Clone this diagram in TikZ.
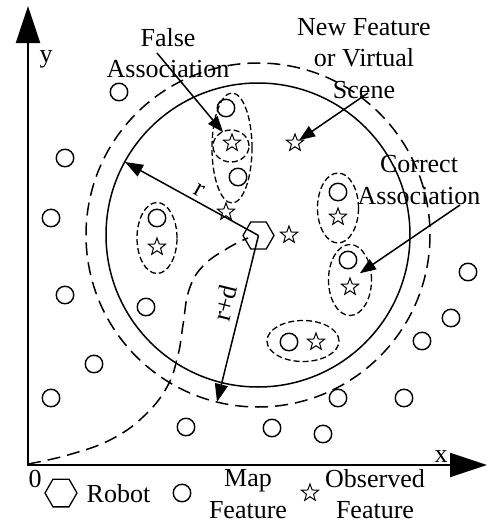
\documentclass[tikz,border=0pt]{standalone}
\usepackage{fontspec}
\setmainfont{Liberation Serif}
\usetikzlibrary{shapes.geometric,arrows.meta}
\begin{document}
\begin{tikzpicture}[x=1pt,y=-1pt,
  every node/.style={font=\fontsize{26}{31.5}\selectfont, inner sep=0pt, outer sep=0pt},
  mapf/.style={circle, draw, line width=1.4pt, minimum size=17.5pt},
  obsf/.style={star, star points=5, star point ratio=2.4, draw, line width=1pt, minimum size=18pt},
  grp/.style={ellipse, draw, line width=1.3pt, dash pattern=on 6pt off 3pt},
  bigdash/.style={line width=1.5pt, dash pattern=on 13pt off 7pt},
  axis/.style={line width=2pt, {Triangle[length=37pt,width=24pt]}-{Triangle[length=37pt,width=24pt]}},
  callout/.style={line width=1.5pt, -{Triangle[length=16pt,width=12pt]}},
  radius arrow/.style={line width=1.5pt, -{Triangle[length=18pt,width=13pt]}},
  robotshape/.style={regular polygon, regular polygon sides=6, draw, line width=1.3pt},
  lbl/.style={align=center}
]
\useasboundingbox (0,0) rectangle (488,523);

% axes
\coordinate (O) at (28,465);
\coordinate (ytip) at (28,6);
\coordinate (xtip) at (487,465);
\draw[axis] (ytip) -- (O) -- (xtip);
\node[anchor=base] (ylbl) at (46,62) {y};
\node[anchor=base] (xlbl) at (441,462) {x};
\node[anchor=base] (zerolbl) at (35,487) {0};

% range circles
\draw[line width=1.5pt] (258,235) circle[radius=152];
\draw[bigdash] (258,235) circle[radius=172];

% big dashed curve
\draw[bigdash] plot[smooth, tension=0.7] coordinates {(28,464) (68,455) (110,440) (143,417) (167,387) (178,355) (183,325) (189,290) (203,266) (228,248) (248,238)};

% robot
\node[robotshape, minimum size=31pt] (robot) at (258.5,235.5) {};

% map features outside
\foreach \n/\p in {m1/{(119,92)}, m2/{(65,158)}, m3/{(51,218)}, m4/{(65,295)}, m5/{(146,307)},
  m6/{(94,364)}, m7/{(51,398)}, m8/{(186,427)}, m9/{(468,272)}, m10/{(451,318)},
  m11/{(422,341)}, m12/{(404,398)}, m13/{(338,398)}, m14/{(272,428)}, m15/{(323,434)}}
  \node[mapf] (\n) at \p {};

% map features inside
\node[mapf] (c1) at (226,108) {};
\node[mapf] (c2) at (238,177) {};
\node[mapf] (c3) at (157,218) {};
\node[mapf] (c4) at (338,192) {};
\node[mapf] (c5) at (348,260) {};
\node[mapf] (c6) at (289,342) {};

% observed features
\node[obsf] (s1) at (232,143) {};
\node[obsf] (s2) at (295,143) {};
\node[obsf] (s3) at (226,212) {};
\node[obsf] (s4) at (289,235) {};
\node[obsf] (s5) at (157,247) {};
\node[obsf] (s6) at (338,217) {};
\node[obsf] (s7) at (350,287) {};
\node[obsf] (s8) at (316,342) {};

% association groups
\node[grp, minimum width=40pt, minimum height=110pt] (e1) at (232,148) {};
\node[grp, minimum width=36pt, minimum height=32pt] (e2) at (231,146) {};
\node[grp, minimum width=40pt, minimum height=71pt] (e3) at (157,238) {};
\node[grp, minimum width=41pt, minimum height=70pt] (e4) at (338,208) {};
\node[grp, minimum width=43pt, minimum height=71pt] (e5) at (350,280) {};
\node[grp, minimum width=72pt, minimum height=41pt] (e6) at (303,341) {};

% radius arrows
\coordinate (rtip) at (125,162);
\coordinate (rdtip) at (217,402);
\draw[radius arrow] (robot.center) -- (rtip);
\draw[radius arrow] (robot.center) -- (rdtip);
\node[rotate=-29] (rlbl) at (199,190) {r};
\node[rotate=76] (rdlbl) at (225,303) {r+d};

% callouts
\node[lbl] (falsetxt) at (168,53) {False\\Association};
\node[lbl] (newtxt) at (364,58.5) {New Feature\\or Virtual\\Scene};
\node[lbl] (corrtxt) at (419,180) {Correct\\Association};
\coordinate (fa1) at (157,53);
\coordinate (nf1) at (368,93);
\coordinate (ca1) at (460,205);
\draw[callout, shorten >=14pt] (fa1) -- (s1.center);
\draw[callout, shorten >=5pt] (nf1) -- (s2.center);
\draw[callout, shorten >=12pt] (ca1) -- (e5.center);

% legend
\node[robotshape, minimum size=32pt] (legrobot) at (61,493) {};
\node[anchor=base] (robottxt) at (118.5,502) {Robot};
\node[mapf] (legmap) at (182,493) {};
\node[lbl] (maptxt) at (248,494) {Map\\Feature};
\node[obsf] (legobs) at (310,493) {};
\node[lbl] (obstxt) at (375,494) {Observed\\Feature};
\end{tikzpicture}
\end{document}
